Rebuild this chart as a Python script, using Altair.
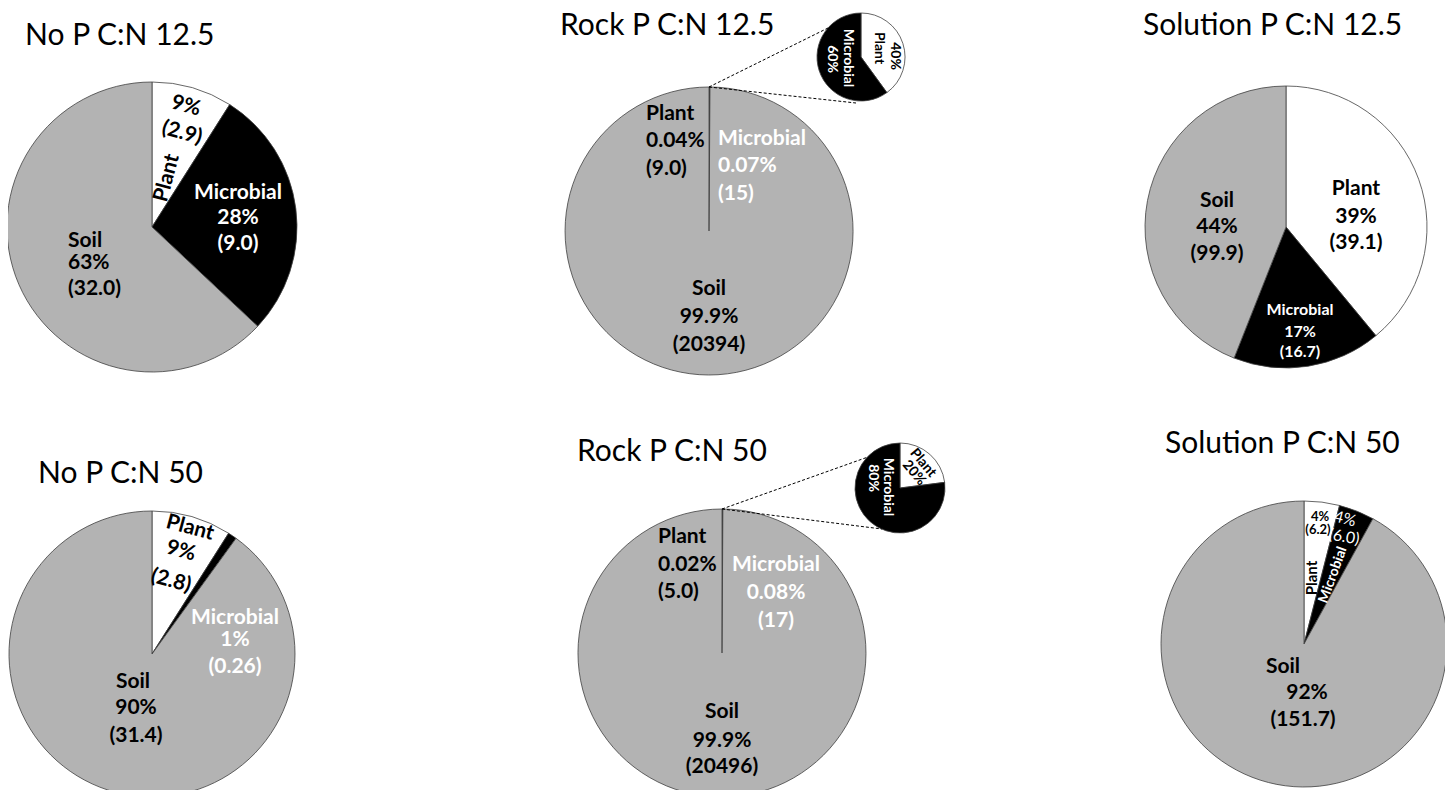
import altair as alt
import pandas as pd
import math

# ---------------- data ----------------
titles = ["No P C:N 12.5", "Rock P C:N 12.5", "Solution P C:N 12.5",
          "No P C:N 50", "Rock P C:N 50", "Solution P C:N 50"]
categories = ["Plant", "Microbial", "Soil"]
plant_pct = [9, 0.04, 39, 9, 0.02, 4]
microbial_pct = [28, 0.07, 17, 1, 0.08, 4]
soil_pct = [63, 99.9, 44, 90, 99.9, 92]
plant_amt = ["2.9", "9.0", "39.1", "2.8", "5.0", "6.2"]
microbial_amt = ["9.0", "15", "16.7", "0.26", "17", "6.0"]
soil_amt = ["32.0", "20394", "99.9", "31.4", "20496", "151.7"]

# zoomed insets of the plant + microbial share (Rock P pies)
inset_pies = [1, 4]
inset_plant_label = [40, 20]
inset_microbial_label = [60, 80]
inset_plant_share = [40, 23]      # as drawn
inset_microbial_share = [60, 77]  # as drawn

# ---------------- layout (image pixel coordinates) ----------------
W, H = 1437, 782
OX, OY = 8, 8
pie_center = [(152, 227), (709, 231), (1286, 227), (152, 654), (722, 653), (1304, 644)]
pie_radius = [145, 144, 141, 143, 144, 143]
inset_center = [(861, 57), (900, 488)]
inset_radius = [44, 45]
inset_lines = [[(709, 87, 830, 27), (709, 87, 856, 103)],
               [(722, 509, 868, 457), (722, 509, 882, 529)]]
title_pos = [(25, 36), (560, 26), (1143, 26), (38, 474), (577, 452), (1165, 444)]
fills = {"Plant": "#ffffff", "Microbial": "#000000", "Soil": "#b3b3b3"}
BK, WH = "#000000", "#ffffff"

# label layout: (category, part, x, y, size, color, angle, weight, align)
label_layout = {
    0: [("Plant", "pct", 186, 106, 21, BK, 15, "bold", "center"),
        ("Plant", "amt", 182, 133, 21, BK, 15, "bold", "center"),
        ("Plant", "name", 167, 178, 21, BK, 285, "bold", "center"),
        ("Microbial", "name", 238, 193, 21, WH, 0, "bold", "center"),
        ("Microbial", "pct", 238, 218, 21, WH, 0, "bold", "center"),
        ("Microbial", "amt", 238, 244, 21, WH, 0, "bold", "center"),
        ("Soil", "name", 68, 241, 21, BK, 0, "bold", "left"),
        ("Soil", "pct", 68, 263, 21, BK, 0, "bold", "left"),
        ("Soil", "amt", 68, 289, 21, BK, 0, "bold", "left")],
    1: [("Plant", "name", 646, 114, 21, BK, 0, "bold", "left"),
        ("Plant", "pct", 646, 141, 21, BK, 0, "bold", "left"),
        ("Plant", "amt", 646, 169, 21, BK, 0, "bold", "left"),
        ("Microbial", "name", 718, 139, 21, WH, 0, "bold", "left"),
        ("Microbial", "pct", 718, 166, 21, WH, 0, "bold", "left"),
        ("Microbial", "amt", 718, 194, 21, WH, 0, "bold", "left"),
        ("Soil", "name", 709, 289, 21, BK, 0, "bold", "center"),
        ("Soil", "pct", 709, 317, 21, BK, 0, "bold", "center"),
        ("Soil", "amt", 709, 345, 21, BK, 0, "bold", "center")],
    2: [("Plant", "name", 1356, 189, 21, BK, 0, "bold", "center"),
        ("Plant", "pct", 1356, 217, 21, BK, 0, "bold", "center"),
        ("Plant", "amt", 1356, 243, 21, BK, 0, "bold", "center"),
        ("Soil", "name", 1217, 201, 21, BK, 0, "bold", "center"),
        ("Soil", "pct", 1217, 227, 21, BK, 0, "bold", "center"),
        ("Soil", "amt", 1217, 254, 21, BK, 0, "bold", "center"),
        ("Microbial", "name", 1300, 310, 16, WH, 0, "bold", "center"),
        ("Microbial", "pct", 1300, 332, 16, WH, 0, "bold", "center"),
        ("Microbial", "amt", 1300, 352, 16, WH, 0, "bold", "center")],
    3: [("Plant", "name", 190, 528, 21, BK, 15, "bold", "center"),
        ("Plant", "pct", 181, 551, 21, BK, 15, "bold", "center"),
        ("Plant", "amt", 171, 581, 21, BK, 15, "bold", "center"),
        ("Microbial", "name", 235, 618, 21, WH, 0, "bold", "center"),
        ("Microbial", "pct", 235, 640, 21, WH, 0, "bold", "center"),
        ("Microbial", "amt", 235, 667, 21, WH, 0, "bold", "center"),
        ("Soil", "name", 133, 682, 21, BK, 0, "bold", "center"),
        ("Soil", "pct", 136, 708, 21, BK, 0, "bold", "center"),
        ("Soil", "amt", 136, 736, 21, BK, 0, "bold", "center")],
    4: [("Plant", "name", 658, 537, 21, BK, 0, "bold", "left"),
        ("Plant", "pct", 658, 565, 21, BK, 0, "bold", "left"),
        ("Plant", "amt", 658, 592, 21, BK, 0, "bold", "left"),
        ("Microbial", "name", 776, 565, 21, WH, 0, "bold", "center"),
        ("Microbial", "pct", 776, 593, 21, WH, 0, "bold", "center"),
        ("Microbial", "amt", 776, 621, 21, WH, 0, "bold", "center"),
        ("Soil", "name", 722, 712, 21, BK, 0, "bold", "center"),
        ("Soil", "pct", 722, 741, 21, BK, 0, "bold", "center"),
        ("Soil", "amt", 722, 767, 21, BK, 0, "bold", "center")],
    5: [("Plant", "pct", 1320, 517, 13, BK, 0, "bold", "center"),
        ("Plant", "amt", 1318, 530, 13, BK, 0, "bold", "center"),
        ("Plant", "name", 1312, 578, 15, BK, 270, "bold", "center"),
        ("Microbial", "pct", 1345, 519, 16, WH, 15, "normal", "center"),
        ("Microbial", "amt", 1344, 537, 16, WH, 10, "normal", "center"),
        ("Microbial", "name", 1333, 575, 14, WH, 290, "bold", "center"),
        ("Soil", "name", 1283, 667, 21, BK, 0, "bold", "center"),
        ("Soil", "pct", 1307, 693, 21, BK, 0, "bold", "center"),
        ("Soil", "amt", 1303, 720, 21, BK, 0, "bold", "center")],
}
inset_label_layout = [
    [("Plant", "pct", 895, 56, 14, BK, 90), ("Plant", "name", 879, 48, 14, BK, 90),
     ("Microbial", "name", 848, 58, 14, WH, 90), ("Microbial", "pct", 832, 59, 14, WH, 90)],
    [("Plant", "name", 923, 463, 14, BK, 50), ("Plant", "pct", 914, 473, 14, BK, 50),
     ("Microbial", "name", 888, 487, 14, WH, 90), ("Microbial", "pct", 873, 478, 14, WH, 90)],
]

# ---------------- tables built from the arrays ----------------
def pct_txt(v):
    return f"{v:g}%"

arc_rows = []
for i in range(6):
    vals = [plant_pct[i], microbial_pct[i], soil_pct[i]]
    tot = sum(vals)
    start = 0.0
    for cat, v in zip(categories, vals):
        share = v / tot * 100
        arc_rows.append(dict(pie=titles[i], cat=cat, t0=start, t1=start + share,
                             x=pie_center[i][0], y=pie_center[i][1], r=pie_radius[i],
                             fill=fills[cat]))
        start += share
for k, i in enumerate(inset_pies):
    vals = [inset_plant_share[k], inset_microbial_share[k]]
    tot = sum(vals)
    start = 0.0
    for cat, v in zip(categories[:2], vals):
        share = v / tot * 100
        arc_rows.append(dict(pie=titles[i] + " inset", cat=cat, t0=start, t1=start + share,
                             x=inset_center[k][0], y=inset_center[k][1], r=inset_radius[k],
                             fill=fills[cat]))
        start += share
arcs = pd.DataFrame(arc_rows)

lab_rows = []
for i in range(6):
    info = {"Plant": (plant_pct[i], plant_amt[i]),
            "Microbial": (microbial_pct[i], microbial_amt[i]),
            "Soil": (soil_pct[i], soil_amt[i])}
    for cat, part, x, y, s, c, a, wgt, al in label_layout[i]:
        p, amt = info[cat]
        txt = cat if part == "name" else (pct_txt(p) if part == "pct" else f"({amt})")
        lab_rows.append(dict(txt=txt, x=x, y=y, fs=s, col=c, ang=a, w=wgt, al=al))
for k, i in enumerate(inset_pies):
    info = {"Plant": inset_plant_label[k], "Microbial": inset_microbial_label[k]}
    for cat, part, x, y, s, c, a in inset_label_layout[k]:
        txt = cat if part == "name" else pct_txt(info[cat])
        lab_rows.append(dict(txt=txt, x=x, y=y, fs=s, col=c, ang=a, w="bold", al="center"))
for i in range(6):
    lab_rows.append(dict(txt=titles[i], x=title_pos[i][0], y=title_pos[i][1], fs=30,
                         col=BK, ang=0, w="normal", al="left"))
labels = pd.DataFrame(lab_rows)

line_rows = []
for k in range(2):
    for (x1, y1, x2, y2) in inset_lines[k]:
        line_rows.append(dict(x=x1, y=y1, x2=x2, y2=y2))
lines = pd.DataFrame(line_rows)

# ---------------- chart ----------------
xs = alt.Scale(domain=[OX, OX + W], zero=False, nice=False)
ys = alt.Scale(domain=[OY, OY + H], zero=False, nice=False, reverse=True)
ts = alt.Scale(domain=[0, 100], range=[0, 2 * math.pi])

pies = alt.Chart(arcs).mark_arc(stroke="#404040", strokeWidth=0.8).encode(
    x=alt.X("x:Q", scale=xs, axis=None),
    y=alt.Y("y:Q", scale=ys, axis=None),
    theta=alt.Theta("t0:Q", scale=ts, stack=False),
    theta2="t1:Q",
    radius=alt.Radius("r:Q", scale=None),
    color=alt.Color("fill:N", scale=None),
)

dashes = alt.Chart(lines).mark_rule(color="#000000", strokeWidth=1, strokeDash=[3, 2]).encode(
    x=alt.X("x:Q", scale=xs, axis=None),
    y=alt.Y("y:Q", scale=ys, axis=None),
    x2="x2:Q",
    y2="y2:Q",
)

text_layers = []
for (wgt, al), sub in labels.groupby(["w", "al"]):
    text_layers.append(
        alt.Chart(sub.reset_index(drop=True)).mark_text(
            font="Lato", fontWeight=wgt, align=al, baseline="middle"
        ).encode(
            x=alt.X("x:Q", scale=xs, axis=None),
            y=alt.Y("y:Q", scale=ys, axis=None),
            text="txt:N",
            size=alt.Size("fs:Q", scale=None),
            color=alt.Color("col:N", scale=None),
            angle=alt.Angle("ang:Q", scale=None),
        )
    )

chart = alt.layer(pies, dashes, *text_layers).properties(
    width=W, height=H, padding=0, autosize=alt.AutoSizeParams(type="none"),
    background="#ffffff",
).configure_view(strokeWidth=0)

chart.save("out.html", embed_options={"renderer": "svg", "actions": False})
